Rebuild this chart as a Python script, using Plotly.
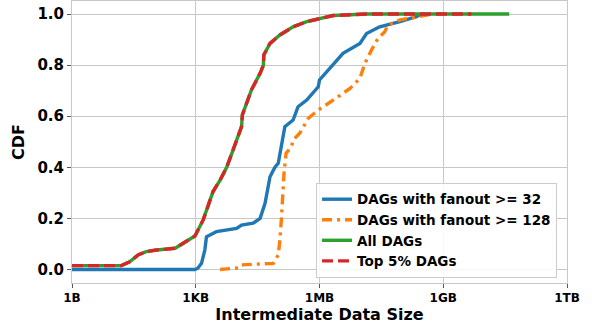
import plotly.graph_objects as go

# Intermediate data size in bytes, and CDF values
fan32_x = [1, 955, 1122, 1380, 1660, 1820, 3162, 9772, 12882, 24547, 36308, 47863,
           63096, 83176, 1e5, 120226, 125893, 144544, 229087, 301995, 489779, 933254,
           1e6, 1.78e6, 3.72e6, 9.55e6, 1.38e7, 2.88e7, 8.91e7, 2.24e8, 2.95e8]
fan32_y = [0.0, 0.0, 0.005, 0.024, 0.076, 0.128, 0.148, 0.161, 0.174, 0.181, 0.20, 0.259,
           0.363, 0.40, 0.416, 0.487, 0.507, 0.559, 0.585, 0.637, 0.663, 0.715,
           0.742, 0.787, 0.846, 0.885, 0.924, 0.95, 0.97, 0.99, 1.0]

fan128_x = [3890, 10715, 12882, 75858, 1e5, 109648, 120226, 138038, 154882, 208930,
            229087, 331131, 537032, 933254, 2.14e6, 5.5e6, 9.55e6, 1.26e7, 1.82e7,
            2.63e7, 3.8e7, 4.57e7, 8.91e7, 2.24e8, 5.75e8]
fan128_y = [0.0, 0.006, 0.018, 0.024, 0.057, 0.115, 0.207, 0.377, 0.455, 0.48,
            0.507, 0.533, 0.592, 0.624, 0.663, 0.709, 0.748, 0.807, 0.859,
            0.905, 0.93, 0.957, 0.977, 0.99, 1.0]

all_x = [1, 15.8, 25, 40, 63, 112, 316, 661, 955, 1514, 1995, 2630, 3890, 5623, 8128,
         12882, 13490, 22387, 36308, 43652, 44668, 63096, 109648, 229087, 489779,
         1e6, 2.14e6, 1.38e7, 3.98e10]
all_y = [0.015, 0.015, 0.03, 0.057, 0.07, 0.076, 0.083, 0.115, 0.131, 0.194, 0.246,
         0.305, 0.35, 0.40, 0.47, 0.559, 0.605, 0.703, 0.768, 0.80, 0.84, 0.885,
         0.918, 0.95, 0.97, 0.983, 0.994, 1.0, 1.0]

top5_x = [1, 15.8, 25, 40, 63, 112, 316, 661, 955, 1514, 1995, 2630, 3890, 5623, 8128,
          12882, 13490, 22387, 36308, 43652, 44668, 63096, 109648, 229087, 489779,
          1e6, 2.14e6, 1.38e7, 4.8e9]
top5_y = [0.015, 0.015, 0.03, 0.057, 0.07, 0.076, 0.083, 0.115, 0.131, 0.194, 0.246,
          0.305, 0.35, 0.40, 0.47, 0.559, 0.605, 0.703, 0.768, 0.80, 0.84, 0.885,
          0.918, 0.95, 0.97, 0.983, 0.994, 1.0, 1.0]

x_tickvals = [1, 1e3, 1e6, 1e9, 1e12]
x_ticktext = ["1B", "1KB", "1MB", "1GB", "1TB"]
y_tickvals = [0.0, 0.2, 0.4, 0.6, 0.8, 1.0]

FONT = "DejaVu Sans"

fig = go.Figure()
fig.add_trace(go.Scatter(x=fan32_x, y=fan32_y, mode="lines", name="DAGs with fanout >= 32",
                         line=dict(color="#1f77b4", width=3.4)))
fig.add_trace(go.Scatter(x=fan128_x, y=fan128_y, mode="lines", name="DAGs with fanout >= 128",
                         line=dict(color="#ff7f0e", width=3.4, dash="10px,5px,3px,5px")))
fig.add_trace(go.Scatter(x=all_x, y=all_y, mode="lines", name="All DAGs",
                         line=dict(color="#2ca02c", width=3.4)))
fig.add_trace(go.Scatter(x=top5_x, y=top5_y, mode="lines", name="Top 5% DAGs",
                         line=dict(color="#d62728", width=3.4, dash="11px,5px")))

fig.update_layout(
    width=592, height=332,
    margin=dict(l=72, r=25, t=1, b=49),
    paper_bgcolor="white", plot_bgcolor="white",
    font=dict(family=FONT, color="black"),
    legend=dict(x=0.493, y=0.018, xanchor="left", yanchor="bottom",
                bgcolor="rgba(255,255,255,0.85)", bordercolor="#cccccc", borderwidth=1,
                font=dict(family=FONT, size=13.5, weight="bold", color="black"),
                tracegroupgap=0, itemwidth=30),
    showlegend=True,
)
fig.update_xaxes(
    type="log", range=[0, 12], automargin=False,
    tickvals=x_tickvals, ticktext=x_ticktext,
    tickfont=dict(family=FONT, size=12, weight="bold", color="black"),
    title=dict(text="Intermediate Data Size", standoff=4,
               font=dict(family=FONT, size=16, weight="bold", color="black")),
    showgrid=True, gridcolor="#c8c8c8", gridwidth=1,
    showline=True, linecolor="#c8c8c8", linewidth=1, mirror=True,
    ticks="outside", ticklen=4, tickcolor="#555555", zeroline=False,
)
fig.update_yaxes(
    range=[-0.053, 1.051], automargin=False,
    tickvals=y_tickvals, tickformat=".1f",
    tickfont=dict(family=FONT, size=15, weight="bold", color="black"),
    title=dict(text="CDF", standoff=8,
               font=dict(family=FONT, size=16, weight="bold", color="black")),
    showgrid=True, gridcolor="#c8c8c8", gridwidth=1,
    showline=True, linecolor="#c8c8c8", linewidth=1, mirror=True,
    ticks="outside", ticklen=4, tickcolor="#555555", zeroline=False,
)

fig.write_html("out.html", config={"displayModeBar": False},
               post_script="document.body.style.margin='0px';document.body.style.padding='0px';")
